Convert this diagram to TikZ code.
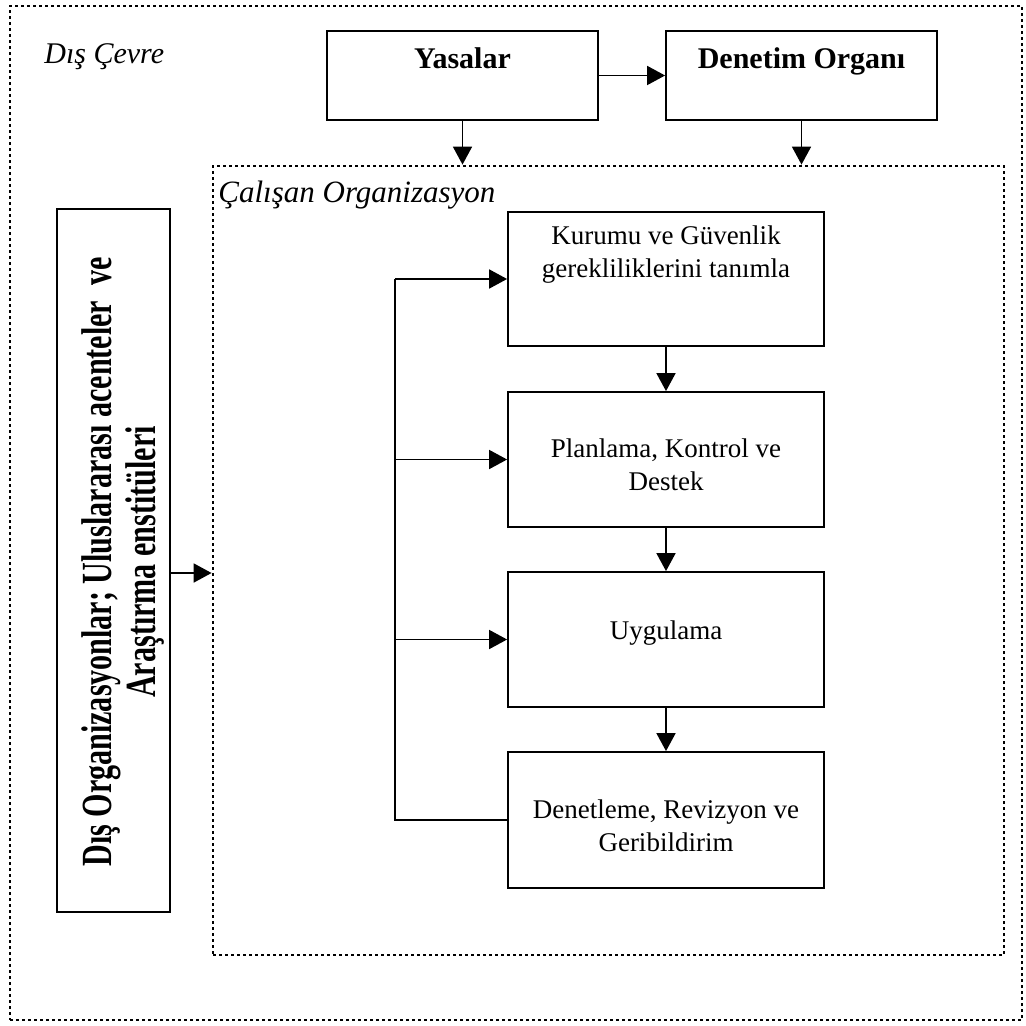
\documentclass[tikz,border=0pt]{standalone}
\usepackage{fontspec}
\setmainfont{Liberation Serif}
\usetikzlibrary{arrows.meta}

\begin{document}
\begin{tikzpicture}[x=0.5pt,y=-0.5pt,
  box/.style={draw, line width=0.9pt, inner sep=0pt, rectangle},
  zone/.style={draw, line width=1.4pt, dash pattern=on 1.5pt off 1.5pt, inner sep=0pt, rectangle},
  link/.style={line width=0.9pt},
  arr/.style={line width=0.9pt, -{Triangle[length=9pt,width=9.5pt]}},
  % multi-line nodes sit on the baseline of their last line
  body/.style={font=\fontsize{13.5}{16.5}\selectfont, inner sep=0pt, align=center, anchor=base},
  head/.style={font=\fontsize{15}{18}\selectfont\bfseries, inner sep=0pt, anchor=base},
  zonelabel/.style={font=\fontsize{15}{18}\selectfont\itshape, inner sep=0pt, anchor=base west},
  sidetext/.style={font=\fontsize{21.5}{22}\selectfont\bfseries, inner sep=0pt, align=center}
]
\useasboundingbox (0,0) rectangle (1026,1026);

% environment frames
\node[zone, minimum width=506pt, minimum height=507pt] (outer) at (516,513) {};
\node[zone, minimum width=395.5pt, minimum height=394.5pt] (inner) at (608.5,560.5) {};
\node[zonelabel] (outerlbl) at (44,64) {Dış Çevre};
\node[zonelabel, font=\fontsize{15.5}{18}\selectfont\itshape] (innerlbl) at (218,203) {Çalışan Organizasyon};

% external bodies
\node[box, minimum width=135.5pt, minimum height=44.5pt] (yas) at (462.5,75.5) {};
\node[box, minimum width=135.5pt, minimum height=44.5pt] (den) at (801.5,75.5) {};
\node[head] (yastxt) at (462.5,69) {Yasalar};
\node[head] (dentxt) at (801.5,69) {Denetim Organı};

\node[box, minimum width=56.5pt, minimum height=351.5pt] (ext) at (113.5,560.5) {};
\node[sidetext, rotate=90, xscale=0.7] (exttxt) at (123,562)
  {Dış Organizasyonlar; Uluslararası acenteler\ \ ve\\Araştırma enstitüleri};

% management cycle
\node[box, minimum width=158pt, minimum height=67pt] (b1) at (666,279) {};
\node[box, minimum width=158pt, minimum height=67.5pt] (b2) at (666,459.5) {};
\node[box, minimum width=158pt, minimum height=67.5pt] (b3) at (666,639.5) {};
\node[box, minimum width=158pt, minimum height=68pt] (b4) at (666,820) {};

\node[body] (b1txt) at (666,278) {Kurumu ve Güvenlik\\gerekliliklerini tanımla};
\node[body] (b2txt) at (666,490) {Planlama, Kontrol ve\\Destek};
\node[body] (b3txt) at (666,639) {Uygulama};
\node[body] (b4txt) at (666,851) {Denetleme, Revizyon ve\\Geribildirim};

% connectors
\draw[arr] (yas.east) -- (den.west);
\draw[arr] (yas.south) -- (yas.south |- inner.north);
\draw[arr] (den.south) -- (den.south |- inner.north);

\coordinate (extlevel) at (0,573);
\draw[arr] (ext.east |- extlevel) -- (inner.west |- extlevel);

\draw[arr] (b1.south) -- (b2.north);
\draw[arr] (b2.south) -- (b3.north);
\draw[arr] (b3.south) -- (b4.north);

% feedback loop
\coordinate (fb) at (395,0);
\draw[link] (b4.west) -- (b4.west -| fb) -- (b1.west -| fb);
\draw[arr] (b1.west -| fb) -- (b1.west);
\draw[arr] (b2.west -| fb) -- (b2.west);
\draw[arr] (b3.west -| fb) -- (b3.west);
\end{tikzpicture}
\end{document}
